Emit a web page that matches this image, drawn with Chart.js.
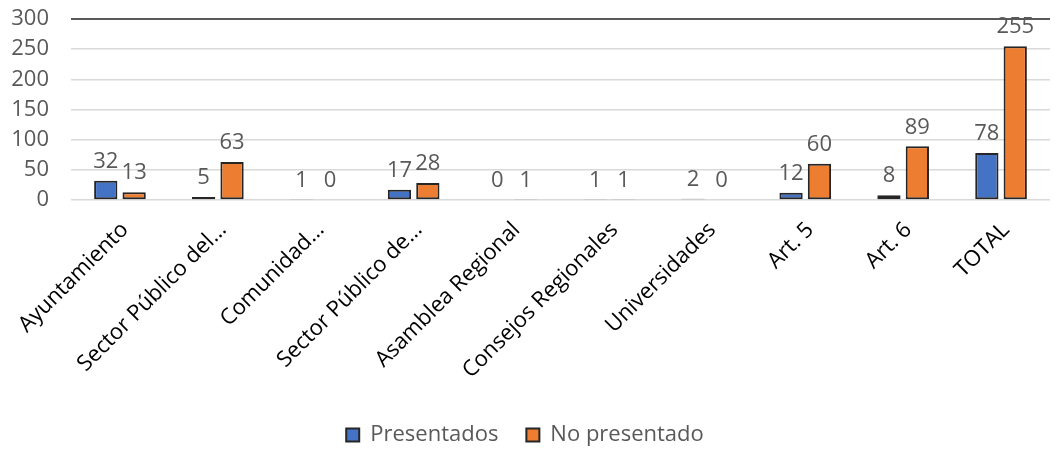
<!DOCTYPE html>
<html>
<head>
<meta charset="utf-8">
<script src="https://cdn.jsdelivr.net/npm/chart.js@4/dist/chart.umd.min.js"></script>
<style>
  html, body { margin: 0; padding: 0; background: #fff; }
  #wrap { width: 1060px; height: 449px; }
</style>
</head>
<body>
<div id="wrap"><canvas id="chart" width="1060" height="449"></canvas></div>
<script>
// === Data ===
const categories = ['Ayuntamiento', 'Sector Público del…', 'Comunidad…', 'Sector Público de…',
  'Asamblea Regional', 'Consejos Regionales', 'Universidades', 'Art. 5', 'Art. 6', 'TOTAL'];
const presentados = [32, 5, 1, 17, 0, 1, 2, 12, 8, 78];
const noPresentado = [13, 63, 0, 28, 1, 1, 0, 60, 89, 255];
const yTicks = [0, 50, 100, 150, 200, 250, 300];

const grey = '#595959';
const font = '"Open Sans", "DejaVu Sans", sans-serif';
const plotBottom = 200; // y of the zero line
const padBottom = -7;

// draws the value above each bar
const valueLabels = {
  id: 'valueLabels',
  afterDatasetsDraw(chart) {
    const ctx = chart.ctx;
    ctx.save();
    ctx.font = '22px ' + font;
    ctx.fillStyle = grey;
    ctx.textAlign = 'center';
    ctx.textBaseline = 'bottom';
    chart.data.datasets.forEach((ds, i) => {
      chart.getDatasetMeta(i).data.forEach((bar, j) => {
        ctx.fillText(String(ds.data[j]), bar.x, bar.y - 8);
      });
    });
    ctx.restore();
  }
};

new Chart(document.getElementById('chart'), {
  type: 'bar',
  data: {
    labels: categories,
    datasets: [
      {
        label: 'Presentados',
        data: presentados,
        backgroundColor: '#4472c4',
        borderColor: '#262626',
        borderWidth: 2,
        borderSkipped: false
      },
      {
        label: 'No presentado',
        data: noPresentado,
        backgroundColor: '#ed7d31',
        borderColor: '#262626',
        borderWidth: 2,
        borderSkipped: false
      }
    ]
  },
  options: {
    responsive: false,
    animation: false,
    layout: { padding: { top: 19, right: 10, left: 0, bottom: padBottom } },
    datasets: { bar: { categoryPercentage: 0.58, barPercentage: 0.82 } },
    plugins: {
      legend: {
        position: 'bottom',
        labels: {
          font: { family: font, size: 22 },
          color: grey,
          boxWidth: 13,
          boxHeight: 13,
          padding: 28,
          useBorderRadius: false
        }
      },
      tooltip: { enabled: false }
    },
    scales: {
      x: {
        grid: { display: false },
        border: { display: false },
        afterFit: s => {
          const lh = s.chart.legend ? s.chart.legend.height : 55;
          s.height = 449 - plotBottom - lh - padBottom;
        },
        ticks: {
          font: { family: font, size: 22 },
          color: '#000',
          maxRotation: 45,
          minRotation: 45,
          autoSkip: false,
          padding: 9,
          labelOffset: 5
        }
      },
      y: {
        min: 0,
        max: 300,
        afterBuildTicks: s => { s.ticks = yTicks.map(v => ({ value: v })); },
        afterFit: s => { s.width = 71; s.paddingTop = 13; s.paddingBottom = 0; },
        border: { display: false },
        grid: {
          drawTicks: false,
          color: c => c.tick && c.tick.value === 300 ? grey : '#d9d9d9',
          lineWidth: c => c.tick && c.tick.value === 300 ? 2 : 1.5
        },
        ticks: {
          autoSkip: false,
          font: { family: font, size: 22 },
          color: grey,
          padding: 22
        }
      }
    }
  },
  plugins: [valueLabels]
});
</script>
</body>
</html>
